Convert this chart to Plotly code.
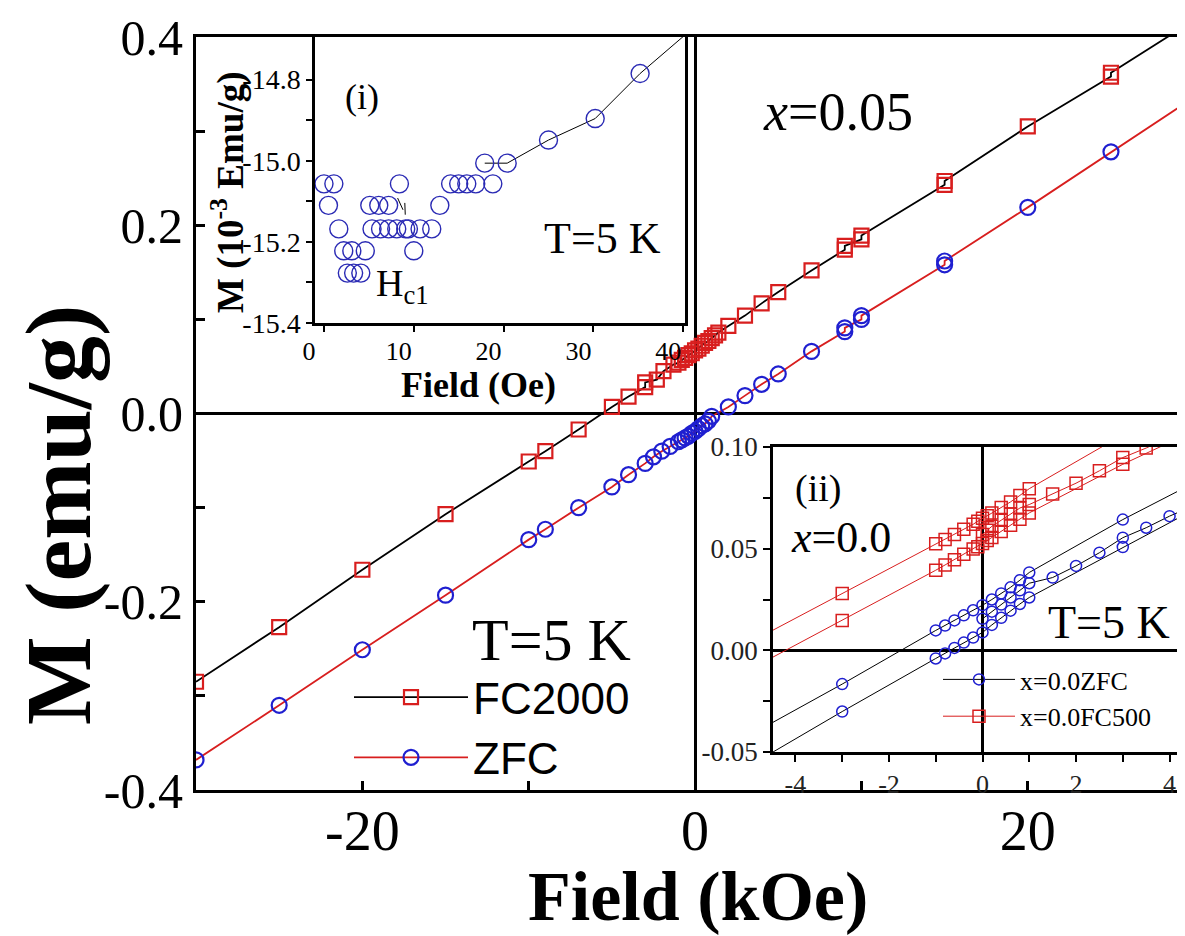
import plotly.graph_objects as go

# ---------------- main panel data (x = 0.05, T = 5 K) ----------------
fc2000_field = [-30, -25, -20, -15, -10, -9, -7, -5, -4, -3, -3, -2.3, -1.9, -1.3, -1.0, -0.8, -0.6,
                -0.4, -0.2, 0, 0.2, 0.4, 0.6, 0.8, 1.0, 1.2, 1.4, 2, 3, 4, 5, 7, 9, 9, 10, 10,
                15, 15, 20, 25, 25, 30]
fc2000_m = [-0.285, -0.227, -0.166, -0.107, -0.051, -0.040, -0.017, 0.007, 0.018, 0.028, 0.033,
            0.036, 0.045, 0.052, 0.054, 0.057, 0.059, 0.062, 0.064, 0.067, 0.069, 0.072, 0.075,
            0.077, 0.080, 0.083, 0.086, 0.093, 0.104, 0.117, 0.129, 0.152, 0.174, 0.178, 0.185,
            0.189, 0.243, 0.247, 0.305, 0.358, 0.362, 0.418]

zfc_field = [-30, -25, -20, -15, -10, -9, -7, -5, -4, -3, -2.5, -2, -1.5, -1, -0.8, -0.6, -0.4,
             -0.2, 0, 0.2, 0.4, 0.6, 0.8, 1, 2, 3, 4, 5, 7, 9, 9, 10, 10, 15, 15, 20, 25, 30]
zfc_m = [-0.368, -0.310, -0.251, -0.193, -0.134, -0.123, -0.100, -0.078, -0.065, -0.053, -0.046,
         -0.040, -0.035, -0.030, -0.028, -0.026, -0.024, -0.021, -0.019, -0.016, -0.013, -0.011,
         -0.008, -0.003, 0.007, 0.019, 0.031, 0.042, 0.066, 0.087, 0.091, 0.100, 0.104, 0.158,
         0.162, 0.219, 0.278, 0.336]

# ---------------- inset (i): low-field M(H), 10^-3 emu/g ----------------
hc1_field = [0.0, 0.5, 1.1, 1.65, 2.2, 2.6, 3.1, 3.3, 4.1, 4.6, 5.1, 5.35, 6.1, 6.3, 7.2, 7.2,
             8.1, 8.4, 9.1, 9.4, 10.0, 10.7, 12.0, 12.9, 14.1, 15.0, 15.9, 16.9, 17.9, 18.8,
             20.4, 25.0, 30.2, 35.2]
hc1_m = [-15.057, -15.110, -15.057, -15.168, -15.222, -15.277, -15.222, -15.277, -15.277,
         -15.222, -15.110, -15.168, -15.110, -15.168, -15.110, -15.168, -15.168, -15.057,
         -15.168, -15.168, -15.222, -15.168, -15.168, -15.110, -15.057, -15.057, -15.057,
         -15.057, -15.006, -15.057, -15.006, -14.949, -14.896, -14.785]
hc1_line_field = [17.9, 20.4, 25.0, 30.2, 35.2, 40.2]
hc1_line_m = [-15.006, -15.006, -14.949, -14.896, -14.785, -14.690]

# ---------------- inset (ii): x = 0.0 loops ----------------
zfc0_a_field = [-5, -3, -1, -0.8, -0.6, -0.4, -0.2, 0, 0.2, 0.4, 0.6, 0.8, 1.0, 3.0, 5.0]
zfc0_a_m = [-0.042, -0.0166, 0.0098, 0.0122, 0.0147, 0.0172, 0.0197, 0.0222, 0.025, 0.028,
            0.031, 0.0345, 0.0383, 0.0643, 0.088]
zfc0_b_field = [-5, -3, -1, -0.8, -0.6, -0.4, -0.2, 0, 0.2, 0.4, 0.6, 0.8, 1.0, 3.0, 5.0]
zfc0_b_m = [-0.057, -0.0301, -0.004, -0.0015, 0.0012, 0.0038, 0.0063, 0.0088, 0.0125, 0.016,
            0.0195, 0.0228, 0.026, 0.0508, 0.075]
zfc0_c_field = [0, 0.2, 0.4, 0.6, 0.8, 1.0, 1.5, 2.0, 2.5, 3.0, 3.5, 4.0, 5.0]
zfc0_c_m = [0.0155, 0.019, 0.0225, 0.026, 0.0295, 0.033, 0.0358, 0.0415, 0.048, 0.0554, 0.0603,
            0.066, 0.076]

fc500_a_field = [-5, -3, -1, -0.8, -0.6, -0.4, -0.2, -0.1, 0, 0.1, 0.2, 0.4, 0.6, 0.8, 1.0, 3.0]
fc500_a_m = [0.0036, 0.028, 0.0524, 0.0545, 0.057, 0.0595, 0.062, 0.0635, 0.065, 0.0662, 0.0675,
             0.0702, 0.073, 0.0762, 0.0795, 0.106]
fc500_b_field = [-5, -3, -1, -0.8, -0.6, -0.4, -0.2, -0.1, 0, 0.1, 0.2, 0.4, 0.6, 0.8, 1.0, 3.0, 5.0]
fc500_b_m = [-0.0097, 0.0147, 0.0394, 0.042, 0.0446, 0.0472, 0.0498, 0.051, 0.0525, 0.054,
             0.0555, 0.0585, 0.0615, 0.0645, 0.0676, 0.0915, 0.113]
fc500_c_field = [0, 0.1, 0.2, 0.4, 0.6, 0.8, 1.0, 1.5, 2.0, 2.5, 3.0, 3.5, 4.0]
fc500_c_m = [0.057, 0.059, 0.061, 0.064, 0.067, 0.070, 0.0717, 0.0769, 0.0822, 0.0883, 0.0948,
             0.0995, 0.105]

main_xticks = [-20, 0, 20]
main_xticktext = ["-20", "0", "20"]
main_yticks = [-0.4, -0.2, 0.0, 0.2, 0.4]
main_yticktext = ["-0.4", "-0.2", "0.0", "0.2", "0.4"]
in1_xticks = [0, 10, 20, 30, 40]
in1_yticks = [-15.4, -15.2, -15.0, -14.8]
in1_yticktext = ["-15.4", "-15.2", "-15.0", "-14.8"]
in2_xticks = [-4, -2, 0, 2, 4]
in2_xticktext = ["-4", "-2", "0", "2", "4"]
in2_yticks = [-0.05, 0.0, 0.05, 0.10]
in2_yticktext = ["-0.05", "0.00", "0.05", "0.10"]

# ---------------- styling / geometry ----------------
W, H = 1185, 936
OFF = 8  # page body margin of the html page
# target plot area in page pixels: x 196..1185, y 37..790
L, T = 196 - OFF, 37 - OFF
R = W - (1185 - OFF)
B = H - (790 - OFF)
PW, PH = W - L - R, H - T - B
SERIF = "Liberation Serif"
SANS = "Liberation Sans"
RED = "#d81e1e"
BLUE = "#1f1fd0"
IBLUE = "#2a2ab4"


def px(xp):
    return (xp - OFF - L) / PW


def py(yp):
    return (H - B - (yp - OFF)) / PH


fig = go.Figure()

# main traces
fig.add_trace(go.Scatter(x=fc2000_field, y=fc2000_m, mode="lines+markers", name="FC2000",
                         line=dict(color="black", width=1.8),
                         marker=dict(symbol="square-open", size=14, color=RED, line=dict(width=2.2)),
                         legend="legend"))
fig.add_trace(go.Scatter(x=zfc_field, y=zfc_m, mode="lines+markers", name="ZFC",
                         line=dict(color=RED, width=1.8),
                         marker=dict(symbol="circle-open", size=15, color=BLUE, line=dict(width=2.2)),
                         legend="legend"))

# inset (i)
fig.add_trace(go.Scatter(x=hc1_line_field, y=hc1_line_m, mode="lines", xaxis="x2", yaxis="y2",
                         line=dict(color="black", width=1), showlegend=False))
fig.add_trace(go.Scatter(x=hc1_field, y=hc1_m, mode="markers", xaxis="x2", yaxis="y2",
                         marker=dict(symbol="circle-open", size=18, color=IBLUE, line=dict(width=1.4)),
                         showlegend=False))

# inset (ii)
for i, (fx, fy) in enumerate([(zfc0_a_field, zfc0_a_m), (zfc0_b_field, zfc0_b_m), (zfc0_c_field, zfc0_c_m)]):
    fig.add_trace(go.Scatter(x=fx, y=fy, mode="lines+markers", xaxis="x3", yaxis="y3",
                             name="x=0.0ZFC", legend="legend2", showlegend=(i == 0),
                             line=dict(color="black", width=1),
                             marker=dict(symbol="circle-open", size=11, color=BLUE, line=dict(width=1.5))))
for i, (fx, fy) in enumerate([(fc500_a_field, fc500_a_m), (fc500_b_field, fc500_b_m), (fc500_c_field, fc500_c_m)]):
    fig.add_trace(go.Scatter(x=fx, y=fy, mode="lines+markers", xaxis="x3", yaxis="y3",
                             name="x=0.0FC500", legend="legend2", showlegend=(i == 0),
                             line=dict(color=RED, width=1),
                             marker=dict(symbol="square-open", size=12, color=RED, line=dict(width=1.5))))

axis_common = dict(showgrid=False, showline=True, linecolor="black", color="black")

fig.update_layout(
    width=W, height=H, autosize=False,
    margin=dict(l=L, r=R, t=T, b=B, pad=0, autoexpand=False),
    paper_bgcolor="white", plot_bgcolor="white",
    font=dict(family=SERIF, color="black"),
    xaxis=dict(**axis_common, domain=[0, 1], range=[-30, 29.45], linewidth=3, mirror=True,
               ticks="inside", ticklen=9, tickwidth=2.5, tickvals=main_xticks, ticktext=main_xticktext,
               minor=dict(tickvals=[-10, 10], ticks="inside", ticklen=9, tickwidth=2.5),
               zeroline=True, zerolinecolor="black", zerolinewidth=2.5,
               tickfont=dict(family=SERIF, size=56), ticklabelstandoff=-10),
    yaxis=dict(**axis_common, domain=[0, 1], range=[-0.4, 0.4], linewidth=3,
               ticks="inside", ticklen=9, tickwidth=2.5, tickvals=main_yticks, ticktext=main_yticktext,
               minor=dict(tickvals=[-0.3, -0.1, 0.1, 0.3], ticks="inside", ticklen=9, tickwidth=2.5),
               zeroline=True, zerolinecolor="black", zerolinewidth=2.5,
               tickfont=dict(family=SERIF, size=50), ticklabelstandoff=0),
    xaxis2=dict(**axis_common, domain=[px(315), px(685)], anchor="y2", range=[-1, 40.2],
                linewidth=2.5, mirror=True, ticks="outside", ticklen=6, tickwidth=2,
                tickvals=in1_xticks, zeroline=False, ticklabelshift=-15, ticklabelstandoff=-3,
                tickfont=dict(family=SERIF, size=26)),
    yaxis2=dict(**axis_common, domain=[py(323), 1], anchor="x2", range=[-15.4, -14.695],
                linewidth=2.5, mirror=True, ticks="outside", ticklen=6, tickwidth=2,
                tickvals=in1_yticks, ticktext=in1_yticktext,
                minor=dict(tickvals=[-15.3, -15.1, -14.9], ticks="outside", ticklen=6, tickwidth=2),
                zeroline=False, tickfont=dict(family=SERIF, size=28)),
    xaxis3=dict(**axis_common, domain=[px(773), 1], anchor="y3", range=[-4.48, 4.33],
                linewidth=2.5, mirror=True, ticks="outside", ticklen=7, tickwidth=2,
                tickvals=in2_xticks, ticktext=in2_xticktext,
                minor=dict(tickvals=[-3, -1, 1, 3], ticks="outside", ticklen=7, tickwidth=2),
                zeroline=True, zerolinecolor="black", zerolinewidth=2.5,
                tickfont=dict(family=SERIF, size=26, color="#222")),
    yaxis3=dict(**axis_common, domain=[py(752), py(447)], anchor="x3", range=[-0.05, 0.10],
                linewidth=2.5, ticks="outside", ticklen=7, tickwidth=2,
                tickvals=in2_yticks, ticktext=in2_yticktext,
                minor=dict(tickvals=[-0.025, 0.025, 0.075], ticks="outside", ticklen=7, tickwidth=2),
                zeroline=True, zerolinecolor="black", zerolinewidth=2.5,
                tickfont=dict(family=SERIF, size=27, color="#222")),
    legend=dict(x=px(349), y=py(662), xanchor="left", yanchor="top", bgcolor="rgba(0,0,0,0)",
                font=dict(family=SANS, size=44), itemwidth=114, tracegroupgap=0),
    legend2=dict(x=px(938), y=py(656), xanchor="left", yanchor="top", bgcolor="rgba(0,0,0,0)",
                 font=dict(family=SERIF, size=26), itemwidth=72, tracegroupgap=0),
)

ann = [
    ("<i>x</i>=0.05", 838, 112, 54, False, 0),
    ("T=5 K", 551, 640, 60, False, 0),
    ("(i)", 362, 97, 36, False, 0),
    ("T=5 K", 602, 238, 44, False, 0),
    ("H<sub>c1</sub>", 402, 286, 38, False, 0),
    ("(ii)", 818, 488, 38, False, 0),
    ("<i>x</i>=0.0", 841, 537, 44, False, 0),
    ("T=5 K", 1109, 622, 46, False, 0),
    ("<b>M (emu/g)</b>", 58, 515, 94, True, -90),
    ("<b>Field (kOe)</b>", 698, 896, 70, True, 0),
    ("<b>M (10<sup>-3</sup> Emu/g)</b>", 228, 192, 37, True, -90),
    ("<b>Field (Oe)</b>", 478, 385, 36, True, 0),
]
for text, xp_, yp_, size, bold, ang in ann:
    fig.add_annotation(text=text, x=px(xp_), y=py(yp_), xref="paper", yref="paper",
                       xanchor="center", yanchor="middle", showarrow=False, textangle=ang,
                       font=dict(family=SERIF, size=size, color="black"))

# small H_c1 marker in inset (i)
fig.add_shape(type="line", xref="x2", yref="y2", x0=8.2, y0=-15.092, x1=8.8, y1=-15.121,
              line=dict(color="black", width=1))
fig.add_shape(type="line", xref="x2", yref="y2", x0=9.0, y0=-15.104, x1=9.05, y1=-15.133,
              line=dict(color="black", width=1))

fig.write_html("out.html")
